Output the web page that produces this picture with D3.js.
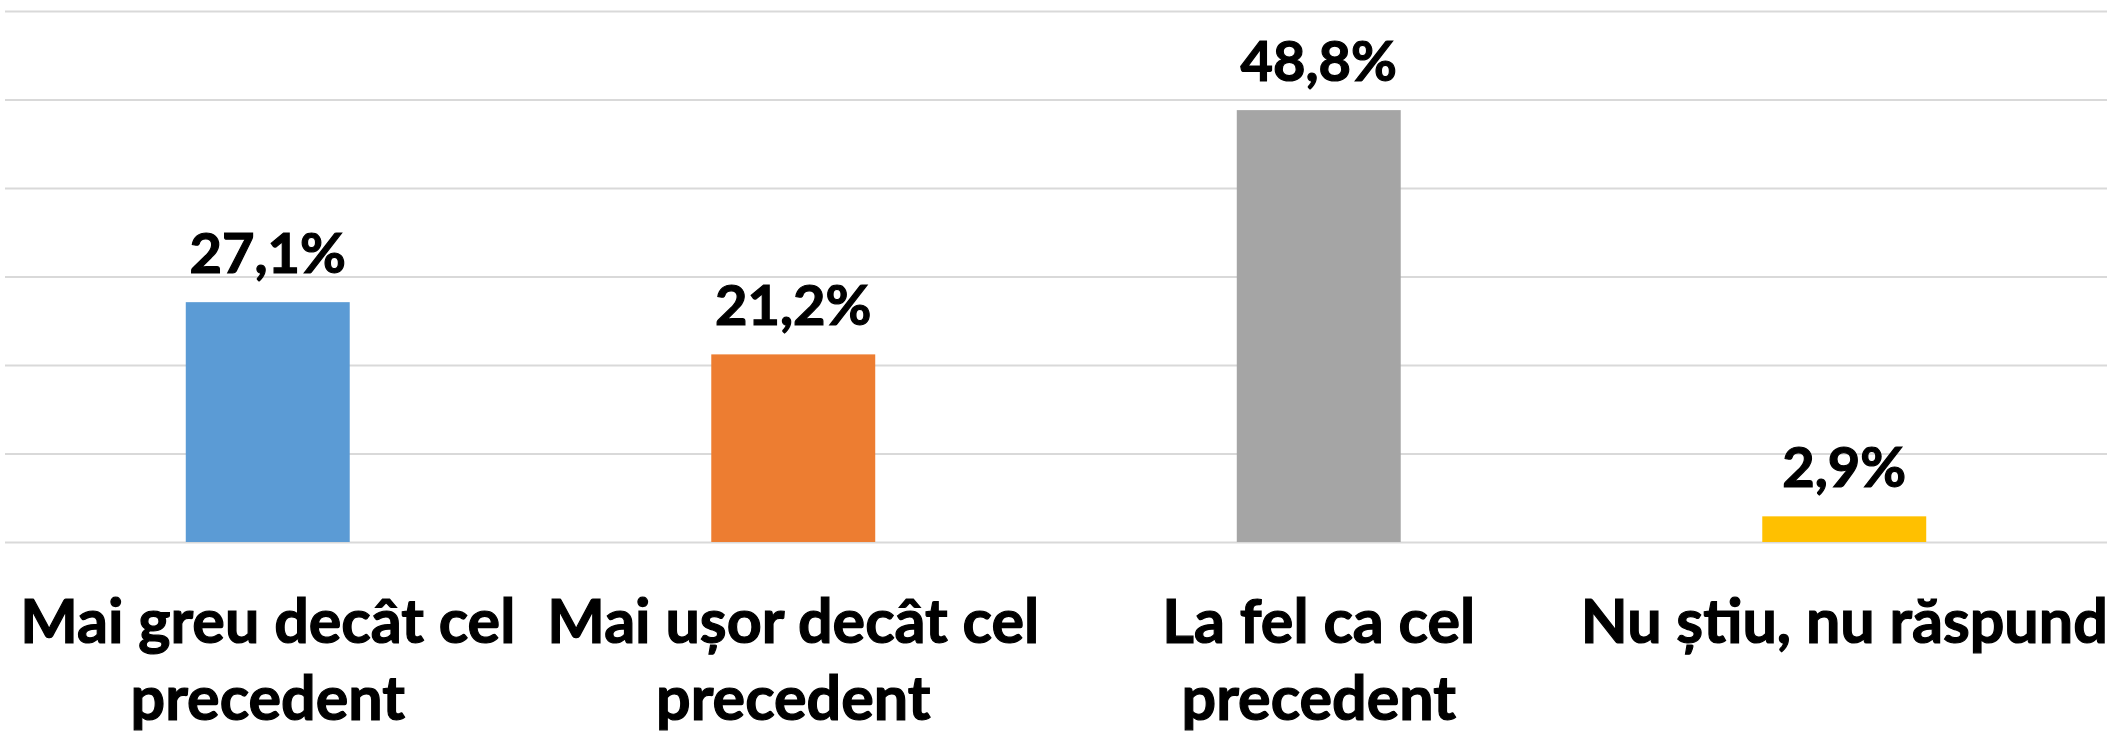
<!DOCTYPE html>
<html>
<head>
<meta charset="utf-8">
<script src="https://cdn.jsdelivr.net/npm/d3@7"></script>
<style>
  body { margin: 0; background: #fff; }
  text { font-family: Lato, "Open Sans", sans-serif; font-weight: 700; fill: #000; stroke: #000; stroke-width: 1.2px; }
</style>
</head>
<body>
<div id="chart"></div>
<script>
// data
const categories = ["Mai greu decât cel precedent", "Mai ușor decât cel precedent", "La fel ca cel precedent", "Nu știu, nu răspund"];
const values = [27.1, 21.2, 48.8, 2.9];
const valueLabels = ["27,1%", "21,2%", "48,8%", "2,9%"];
const colors = ["#5B9BD5", "#ED7D31", "#A5A5A5", "#FFC000"];
const gridTicks = [0, 10, 20, 30, 40, 50, 60];

// chart size
const width = 2107;
const height = 731;
const margin = { top: 11, right: 0, bottom: 189, left: 5 };

const svg = d3.select("#chart")
  .append("svg")
  .attr("width", width)
  .attr("height", height);

const x = d3.scaleBand()
  .domain(categories)
  .range([margin.left, width - margin.right])
  .paddingInner(0.688)
  .paddingOuter(0.344);

const y = d3.scaleLinear()
  .domain([0, 60])
  .range([height - margin.bottom, margin.top]);

// gridlines
svg.append("g")
  .attr("class", "grid")
  .attr("transform", `translate(${margin.left},0)`)
  .call(d3.axisLeft(y).tickValues(gridTicks).tickSize(-(width - margin.left - margin.right)).tickFormat(""))
  .call(g => g.select(".domain").remove())
  .call(g => g.selectAll("line").attr("stroke", "#d9d9d9").attr("stroke-width", 2));

// bars
svg.selectAll(".bar")
  .data(values)
  .enter().append("rect")
  .attr("class", "bar")
  .attr("x", (d, i) => x(categories[i]))
  .attr("width", x.bandwidth())
  .attr("y", d => y(d))
  .attr("height", d => y(0) - y(d))
  .attr("fill", (d, i) => colors[i]);

// value labels
svg.selectAll(".val")
  .data(values)
  .enter().append("text")
  .attr("class", "val")
  .attr("x", (d, i) => x(categories[i]) + x.bandwidth() / 2)
  .attr("y", d => y(d) - 29)
  .attr("text-anchor", "middle")
  .style("font-size", "56px")
  .text((d, i) => valueLabels[i]);

// category labels, wrapped to the band step
const maxW = x.step() + 10;
categories.forEach(c => {
  const cx = x(c) + x.bandwidth() / 2;
  const t = svg.append("text")
    .attr("text-anchor", "middle")
    .style("font-size", "61px")
    .attr("x", cx)
    .attr("y", 643);
  const words = c.split(" ");
  let line = [];
  let tspan = t.append("tspan").attr("x", cx).attr("dy", 0);
  words.forEach(w => {
    line.push(w);
    tspan.text(line.join(" "));
    if (tspan.node().getComputedTextLength() > maxW && line.length > 1) {
      line.pop();
      tspan.text(line.join(" "));
      line = [w];
      tspan = t.append("tspan").attr("x", cx).attr("dy", 77).text(w);
    }
  });
});
</script>
</body>
</html>
